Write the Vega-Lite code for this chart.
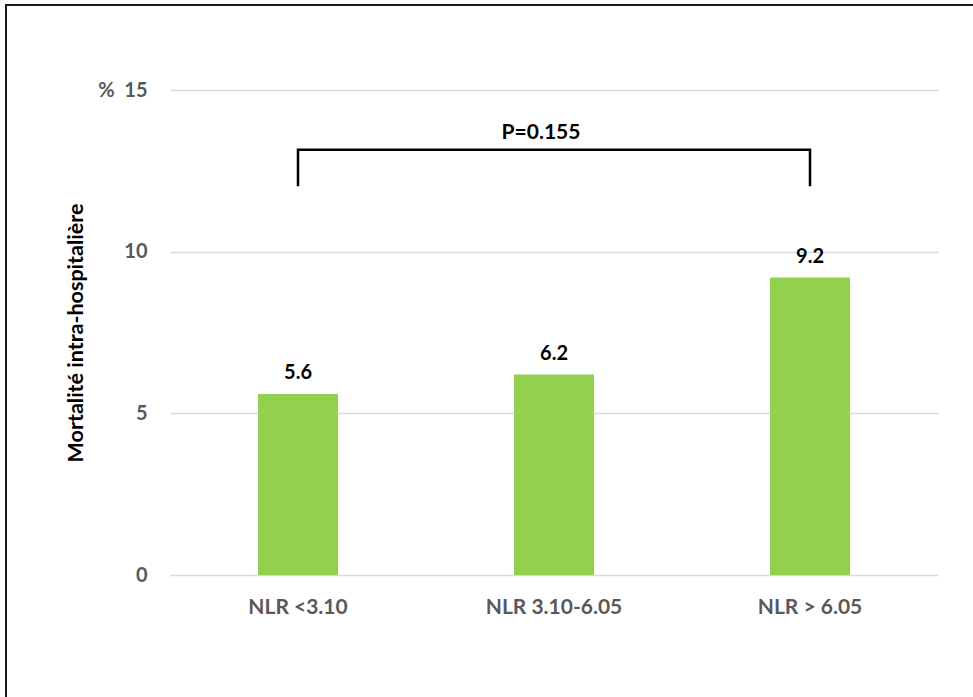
{
  "$schema": "https://vega.github.io/schema/vega-lite/v6.json",
  "width": 967,
  "height": 692,
  "autosize": {"type": "none"},
  "padding": {"left": 6, "top": 5, "right": 0, "bottom": 0},
  "background": "white",
  "config": {
    "view": {"stroke": "#1a1a1a", "strokeWidth": 2, "strokeDash": [967, 1659, 692, 10]},
    "font": "Lato",
    "axis": {"labelFont": "Lato", "titleFont": "Lato"}
  },
  "datasets": {
    "groups": [
      {"groupe": "NLR <3.10", "mortalite": 5.6},
      {"groupe": "NLR 3.10-6.05", "mortalite": 6.2},
      {"groupe": "NLR > 6.05", "mortalite": 9.2}
    ],
    "bracket": [
      {"groupe": "NLR <3.10", "y": 12.06, "ordre": 1},
      {"groupe": "NLR <3.10", "y": 13.15, "ordre": 2},
      {"groupe": "NLR > 6.05", "y": 13.15, "ordre": 3},
      {"groupe": "NLR > 6.05", "y": 12.06, "ordre": 4}
    ],
    "pvalue": [
      {"groupe": "NLR 3.10-6.05", "y": 13.15, "texte": "P=0.155"}
    ]
  },
  "encoding": {
    "x": {
      "field": "groupe",
      "type": "nominal",
      "sort": null,
      "scale": {
        "domain": ["NLR <3.10", "NLR 3.10-6.05", "NLR > 6.05"],
        "range": [164, 932],
        "paddingInner": 0.6875,
        "paddingOuter": 0.34375
      },
      "axis": {
        "orient": "bottom",
        "offset": -122,
        "title": null,
        "labelAngle": 0,
        "domain": false,
        "ticks": false,
        "grid": false,
        "labelPadding": 21,
        "labelFontSize": 21,
        "labelFontWeight": "bold",
        "labelColor": "#595959"
      }
    }
  },
  "layer": [
    {
      "data": {"name": "groups"},
      "mark": {"type": "bar", "color": "#92D050"},
      "encoding": {
        "y": {
          "field": "mortalite",
          "type": "quantitative",
          "scale": {"domain": [0, 15], "range": [570, 85], "nice": false, "zero": true},
          "axis": {
            "orient": "left",
            "offset": -164,
            "values": [0, 5, 10, 15],
            "labelExpr": "datum.value === 15 ? '%\u00a0\u00a015' : datum.label",
            "domain": false,
            "ticks": false,
            "grid": true,
            "gridColor": "#d9d9d9",
            "gridWidth": 1.5,
            "labelPadding": 23,
            "labelFontSize": 20,
            "labelFontWeight": "bold",
            "labelColor": "#595959",
            "title": "Mortalité intra-hospitalière",
            "titleFontSize": 21.5,
            "titleFontWeight": "bold",
            "titleColor": "#000000",
            "titlePadding": 10
          }
        }
      }
    },
    {
      "data": {"name": "groups"},
      "mark": {
        "type": "text",
        "baseline": "alphabetic",
        "dy": -15,
        "fontSize": 20,
        "fontWeight": "bold",
        "color": "#000000"
      },
      "encoding": {
        "y": {"field": "mortalite", "type": "quantitative"},
        "text": {"field": "mortalite", "type": "quantitative", "format": ".1f"}
      }
    },
    {
      "data": {"name": "bracket"},
      "mark": {"type": "line", "color": "#000000", "strokeWidth": 2.5, "strokeCap": "square"},
      "encoding": {
        "y": {"field": "y", "type": "quantitative"},
        "order": {"field": "ordre", "type": "quantitative"}
      }
    },
    {
      "data": {"name": "pvalue"},
      "mark": {
        "type": "text",
        "baseline": "alphabetic",
        "dy": -11,
        "dx": -13,
        "fontSize": 21,
        "fontWeight": "bold",
        "color": "#000000"
      },
      "encoding": {
        "y": {"field": "y", "type": "quantitative"},
        "text": {"field": "texte", "type": "nominal"}
      }
    }
  ]
}
